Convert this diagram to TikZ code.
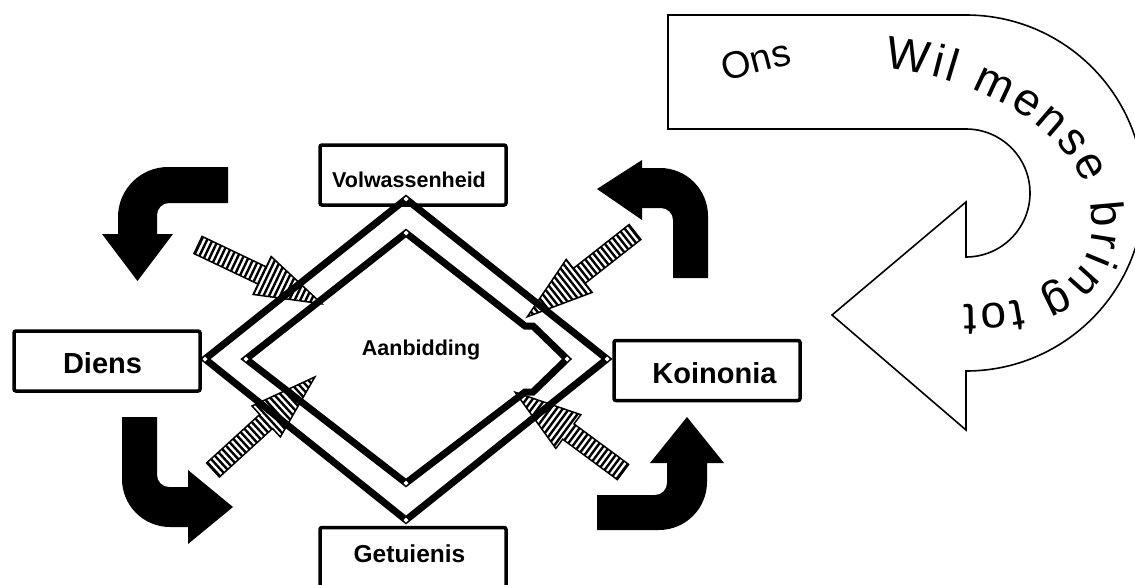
\documentclass[tikz,border=0pt]{standalone}
\usepackage{fontspec}
\setmainfont{Liberation Sans}
\usetikzlibrary{decorations.text}
\tikzset{
  box/.style={draw, line width=3.5pt, rounded corners=2pt, fill=white,
    minimum width=186pt, minimum height=60pt, inner sep=0pt},
  lbl/.style={anchor=base, inner sep=0pt, font=\bfseries},
  diam/.style={line width=7pt, line join=miter},
  bendarrow/.style={fill=black},
  hollow/.style={draw, line width=1.6pt, fill=white, line join=miter},
  vdot/.style={fill=white},
  hatchline/.style={line width=2.4pt},
  hatchrim/.style={draw, line width=1.5pt, line join=miter},
}
\newcommand\hatchArrow[3]{%
  \begin{scope}[shift={(#1)}, rotate=#2]
    \begin{scope}
      \clip (0,-9.5) -- ({#3-66},-9.5) -- ({#3-66},-21) -- (#3,0) -- ({#3-66},21) -- ({#3-66},9.5) -- (0,9.5) -- cycle;
      \foreach \i in {1,6,...,141} \draw[hatchline] (\i,-25) -- (\i,25);
    \end{scope}
    \path[hatchrim] (0,-9.5) -- ({#3-66},-9.5) -- ({#3-66},-21) -- (#3,0) -- ({#3-66},21) -- ({#3-66},9.5) -- (0,9.5) -- cycle;
  \end{scope}}
\newcommand\vertexDot[1]{\path[vdot] (#1) +(-2.5,0) -- +(0,2.5) -- +(2.5,0) -- +(0,-2.5) -- cycle;}
\begin{document}
\begin{tikzpicture}[x=1pt,y=1pt]
\clip (0,0) rectangle (1135,-584);

% hollow U-turn arrow
\path[hollow] (668,-15) -- (966,-15) arc[start angle=90,end angle=-90,radius=178]
  -- (966,-430) -- (832,-315) -- (966,-202) -- (966,-257)
  arc[start angle=-90,end angle=90,radius=64] -- (668,-129) -- cycle;
\path[decorate, decoration={text along path, text align={center},
  text={|\fontsize{38}{38}\selectfont|Ons}}]
  (716,-84) .. controls (745,-76) and (772,-68) .. (802,-62);
\path[decorate, decoration={text along path, text align={fit to path},
  text={|\fontsize{46}{46}\selectfont|Wil mense bring tot}}]
  (884,-68) .. controls (990,-78) and (1092,-140) .. (1092,-225)
  .. controls (1092,-290) and (1030,-305) .. (964,-305);

% boxes
\node[box] (vol) at (413,-175) {};
\node[box] (get) at (413,-557.5) {};
\node[box] (die) at (107,-361) {};
\node[box] (koi) at (707,-370.5) {};
\node[lbl, font=\bfseries\fontsize{21.5}{24}\selectfont] (voltxt) at (409,-187) {Volwassenheid};
\node[lbl, font=\bfseries\fontsize{24.5}{28}\selectfont] (gettxt) at (409.5,-562) {Getuienis};
\node[lbl, font=\bfseries\fontsize{29}{32}\selectfont] (dietxt) at (102.5,-373) {Diens};
\node[lbl, font=\bfseries\fontsize{29}{32}\selectfont] (koitxt) at (714.5,-383) {Koinonia};
\node[lbl, font=\bfseries\fontsize{21.5}{24}\selectfont] (aan) at (421,-355) {Aanbidding};

% diamonds
\coordinate (ot) at (406,-199); \coordinate (or) at (607,-359);
\coordinate (ob) at (406,-520); \coordinate (ol) at (205,-359);
\coordinate (it) at (406,-233); \coordinate (ir) at (567,-359);
\coordinate (ib) at (406,-483); \coordinate (il) at (246,-359);
\draw[diam] (ot) -- (or) -- (ob) -- (ol) -- cycle;
\draw[diam] (it) -- (525,-326) -- (533,-326) -- (ir) -- (533,-392) -- (525,-392) -- (ib) -- (il) -- cycle;
\vertexDot{ot}\vertexDot{or}\vertexDot{ob}\vertexDot{ol}
\vertexDot{it}\vertexDot{ir}\vertexDot{ib}\vertexDot{il}

% black bent arrows
\path[bendarrow] (228,-167) -- (168,-167) arc[start angle=90,end angle=180,radius=50]
  -- (118,-234) -- (102,-234) -- (137.5,-281) -- (173,-234) -- (157,-234) -- (157,-215)
  arc[start angle=180,end angle=90,radius=12] -- (228,-203) -- cycle;
\path[bendarrow] (673,-278) -- (708,-278) -- (708,-216) arc[start angle=0,end angle=90,radius=48]
  -- (642,-168) -- (642,-160) -- (597,-189) -- (642,-220) -- (642,-208) -- (661,-208)
  arc[start angle=90,end angle=0,radius=12] -- cycle;
\path[bendarrow] (122,-417) -- (157,-417) -- (157,-475) arc[start angle=180,end angle=270,radius=12]
  -- (188,-487) -- (188,-470) -- (233,-507) -- (188,-544) -- (188,-527) -- (170,-527)
  arc[start angle=270,end angle=180,radius=48] -- cycle;
\path[bendarrow] (597,-495) -- (655,-495) arc[start angle=-90,end angle=0,radius=12]
  -- (667,-463) -- (650,-463) -- (687,-417) -- (724,-463) -- (707,-463) -- (707,-482)
  arc[start angle=0,end angle=-90,radius=48] -- (597,-530) -- cycle;

% hatched arrows
\coordinate (h1) at (198,-245);
\coordinate (h2) at (635,-232);
\coordinate (h3) at (213,-470);
\coordinate (h4) at (623,-472);
\hatchArrow{h1}{-25.4}{137}
\hatchArrow{h2}{218.2}{137}
\hatchArrow{h3}{42.4}{138}
\hatchArrow{h4}{143.5}{134}
\end{tikzpicture}
\end{document}
